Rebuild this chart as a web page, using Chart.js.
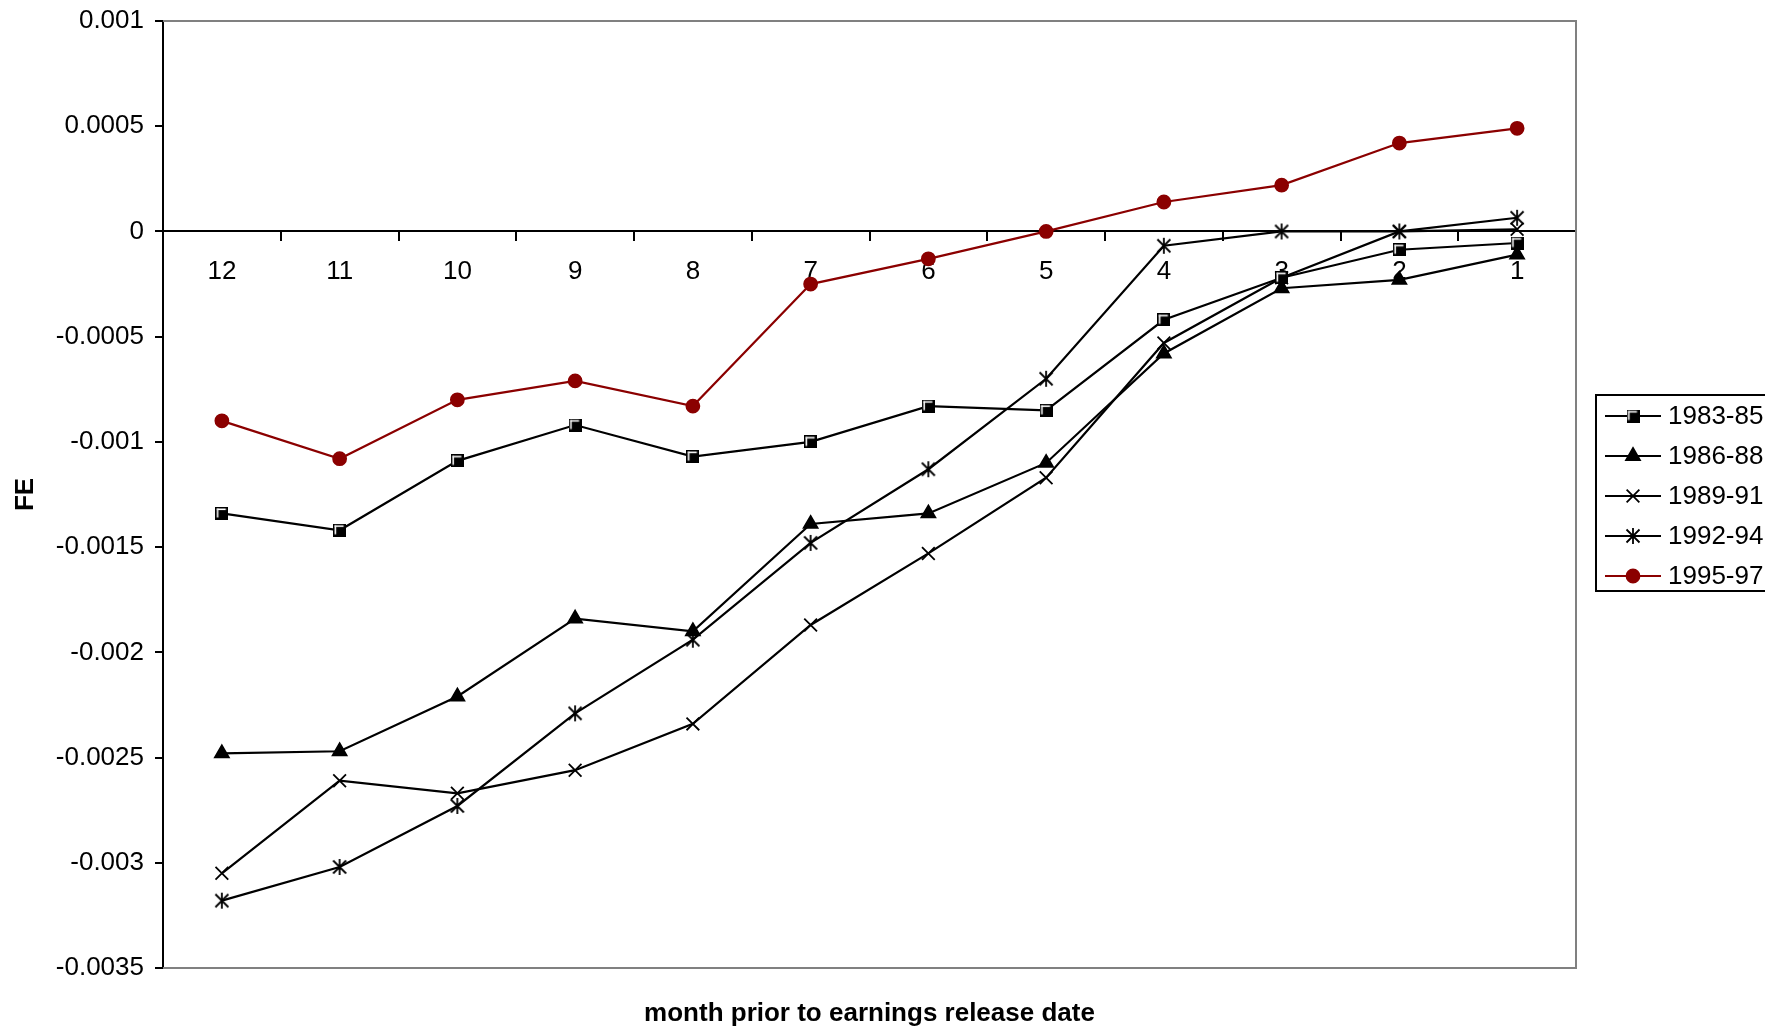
<!DOCTYPE html>
<html lang="en">
<head>
    <meta charset="UTF-8">
    <title>FE by month prior to earnings release</title>
    <script src="https://cdn.jsdelivr.net/npm/chart.js"></script>
    <style>
        body { margin: 0; background: #fff; }
    </style>
</head>
<body>
    <canvas id="feChart" width="1765" height="1031"></canvas>

    <script>
        // month prior to earnings release date
        const months = ["12", "11", "10", "9", "8", "7", "6", "5", "4", "3", "2", "1"];

        // FE per period
        const fe8385 = [-0.00134, -0.00142, -0.00109, -0.00092, -0.00107, -0.00100, -0.00083, -0.00085, -0.00042, -0.00022, -0.000087, -0.000055];
        const fe8688 = [-0.00248, -0.00247, -0.00221, -0.00184, -0.00190, -0.00139, -0.00134, -0.00110, -0.00058, -0.00027, -0.00023, -0.00011];
        const fe8991 = [-0.00305, -0.00261, -0.00267, -0.00256, -0.00234, -0.00187, -0.00153, -0.00117, -0.00053, -0.00022, 0.0, 0.00001];
        const fe9294 = [-0.00318, -0.00302, -0.00273, -0.00229, -0.00194, -0.00148, -0.00113, -0.00070, -0.000068, 0.0, 0.0, 0.000065];
        const fe9597 = [-0.00090, -0.00108, -0.00080, -0.00071, -0.00083, -0.00025, -0.00013, 0.0, 0.00014, 0.00022, 0.00042, 0.00049];

        const yTicks = [0.001, 0.0005, 0, -0.0005, -0.001, -0.0015, -0.002, -0.0025, -0.003, -0.0035];

        const FONT = "'Liberation Sans', Arial, sans-serif";
        const RED = "#8b0000";

        // Excel style markers that Chart.js has no built-in for
        function squareMarker() {
            const c = document.createElement("canvas");
            c.width = 13; c.height = 13;
            const g = c.getContext("2d");
            g.fillStyle = "#000";
            g.fillRect(0, 0, 13, 13);
            g.fillStyle = "#fff";
            g.fillRect(1.5, 1.5, 9, 1.6);
            g.fillRect(1.5, 1.5, 1.6, 9);
            return c;
        }
        function asteriskMarker() {
            const c = document.createElement("canvas");
            c.width = 18; c.height = 18;
            const g = c.getContext("2d");
            g.strokeStyle = "#000";
            g.lineWidth = 1.8;
            g.beginPath();
            g.moveTo(2.5, 2.5); g.lineTo(15.5, 15.5);
            g.moveTo(15.5, 2.5); g.lineTo(2.5, 15.5);
            g.moveTo(9, 1); g.lineTo(9, 17);
            g.stroke();
            return c;
        }

        const series = [
            { label: "1983-85", data: fe8385, color: "#000", style: squareMarker(), radius: 7 },
            { label: "1986-88", data: fe8688, color: "#000", style: "triangle", radius: 8 },
            { label: "1989-91", data: fe8991, color: "#000", style: "crossRot", radius: 9 },
            { label: "1992-94", data: fe9294, color: "#000", style: asteriskMarker(), radius: 9 },
            { label: "1995-97", data: fe9597, color: RED, style: "circle", radius: 6.5 }
        ];

        // gray frame on top / right / bottom of the plot area
        const frame = {
            id: "frame",
            beforeDatasetsDraw(chart) {
                const { ctx, chartArea: a } = chart;
                ctx.save();
                ctx.strokeStyle = "#808080";
                ctx.lineWidth = 2;
                ctx.beginPath();
                ctx.moveTo(a.left, a.top);
                ctx.lineTo(a.right, a.top);
                ctx.lineTo(a.right, a.bottom);
                ctx.lineTo(a.left, a.bottom);
                ctx.stroke();
                ctx.restore();
            }
        };

        // x axis title at the bottom + boxed legend on the right
        const extras = {
            id: "extras",
            afterDraw(chart) {
                const { ctx, chartArea: a } = chart;
                ctx.save();
                ctx.fillStyle = "#000";
                ctx.font = "bold 26px " + FONT;
                ctx.textAlign = "center";
                ctx.textBaseline = "middle";
                ctx.fillText("month prior to earnings release date", (a.left + a.right) / 2, 1014);

                ctx.strokeStyle = "#000";
                ctx.lineWidth = 2;
                ctx.strokeRect(1596, 395, 220, 196);

                ctx.font = "26px " + FONT;
                ctx.textAlign = "left";
                chart.data.datasets.forEach((ds, i) => {
                    const y = 416 + i * 40;
                    ctx.strokeStyle = ds.borderColor;
                    ctx.lineWidth = 2;
                    ctx.beginPath();
                    ctx.moveTo(1605, y);
                    ctx.lineTo(1661, y);
                    ctx.stroke();
                    ctx.fillStyle = ds.pointBackgroundColor;
                    ctx.strokeStyle = ds.pointBorderColor;
                    ctx.lineWidth = ds.pointBorderWidth;
                    Chart.helpers.drawPoint(ctx, {
                        pointStyle: ds.pointStyle,
                        radius: ds.pointRadius,
                        rotation: 0,
                        borderWidth: ds.pointBorderWidth
                    }, 1633, y);
                    ctx.fillStyle = "#000";
                    ctx.fillText(ds.label, 1668, y + 1);
                });
                ctx.restore();
            }
        };

        const ctx = document.getElementById("feChart").getContext("2d");
        new Chart(ctx, {
            type: "line",
            data: {
                labels: months,
                datasets: series.map(s => ({
                    label: s.label,
                    data: s.data,
                    borderColor: s.color,
                    borderWidth: 2.2,
                    pointStyle: s.style,
                    pointRadius: s.radius,
                    pointBackgroundColor: s.color,
                    pointBorderColor: s.color,
                    pointBorderWidth: 1.8,
                    fill: false,
                    tension: 0
                }))
            },
            options: {
                responsive: false,
                animation: false,
                layout: { padding: { top: 21, right: 189, bottom: 63, left: 0 } },
                plugins: {
                    legend: { display: false },
                    tooltip: { enabled: false }
                },
                scales: {
                    x: {
                        position: { y: 0 },
                        offset: true,
                        grid: {
                            offset: true,
                            drawOnChartArea: false,
                            drawTicks: true,
                            tickLength: 9,
                            color: "#000",
                            lineWidth: 2
                        },
                        border: { color: "#000", width: 2 },
                        ticks: {
                            autoSkip: false,
                            maxRotation: 0,
                            padding: 16,
                            color: "#000",
                            font: { family: FONT, size: 26 }
                        }
                    },
                    y: {
                        min: -0.0035,
                        max: 0.001,
                        afterBuildTicks(scale) {
                            scale.ticks = yTicks.map(v => ({ value: v }));
                        },
                        afterFit(scale) {
                            scale.width = 163;
                            scale.paddingTop = 0;
                            scale.paddingBottom = 0;
                        },
                        grid: {
                            drawOnChartArea: false,
                            drawTicks: true,
                            tickLength: 8,
                            color: "#000",
                            lineWidth: 2
                        },
                        border: { color: "#000", width: 2 },
                        ticks: {
                            padding: 11,
                            color: "#000",
                            font: { family: FONT, size: 26 },
                            callback: v => String(+v.toFixed(4))
                        },
                        title: {
                            display: true,
                            text: "FE",
                            color: "#000",
                            font: { family: FONT, size: 26, weight: "bold" },
                            padding: { top: 10, bottom: 0 }
                        }
                    }
                }
            },
            plugins: [frame, extras]
        });
    </script>
</body>
</html>
